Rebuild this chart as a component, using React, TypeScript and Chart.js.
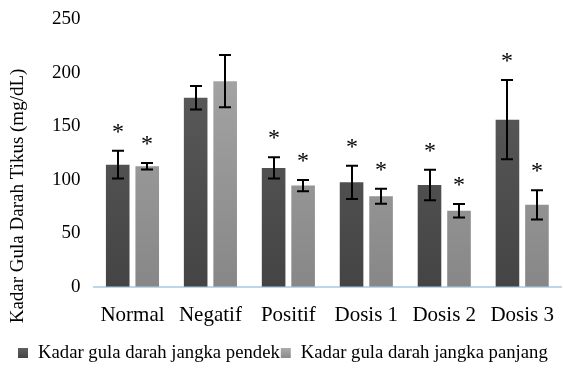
import React, { useEffect, useRef } from "react";
import { Chart, registerables } from "chart.js";

Chart.register(...registerables);

const categories = ["Normal", "Negatif", "Positif", "Dosis 1", "Dosis 2", "Dosis 3"];
const seriesNames = ["Kadar gula darah jangka pendek", "Kadar gula darah jangka panjang"];
const shortTerm = [114, 176.5, 111, 97.5, 95, 156];
const shortTermErr = [13, 11, 10, 15.6, 14.2, 37];
const longTerm = [112.5, 192, 94.5, 84.5, 71, 76.5];
const longTermErr = [3, 24.4, 5.3, 7, 6.4, 13.6];
const shortTermMark = ["*", "", "*", "*", "*", "*"];
const longTermMark = ["*", "", "*", "*", "*", "*"];
const yTicks = [0, 50, 100, 150, 200, 250];
const yTitle = "Kadar Gula Darah Tikus (mg/dL)";

const FONT = "'Liberation Serif', 'Times New Roman', serif";
const LEGEND_COLORS = [
  ["#606060", "#444444"],
  ["#ababab", "#8a8a8a"],
];

function grad(ctx: any, top: string, bottom: string, fallback: string) {
  const chart = ctx.chart;
  const area = chart.chartArea;
  if (!area) return fallback;
  const g = chart.ctx.createLinearGradient(0, area.top, 0, area.bottom);
  g.addColorStop(0, top);
  g.addColorStop(1, bottom);
  return g;
}

const errorPlugin = {
  id: "errorBars",
  afterDatasetsDraw(chart: any) {
    const ctx = chart.ctx;
    const y = chart.scales.y;
    const errs = [shortTermErr, longTermErr];
    const vals = [shortTerm, longTerm];
    const marks = [shortTermMark, longTermMark];
    ctx.save();
    ctx.strokeStyle = "#000";
    ctx.lineWidth = 2;
    ctx.fillStyle = "#000";
    ctx.font = `24px ${FONT}`;
    ctx.textAlign = "center";
    ctx.textBaseline = "alphabetic";
    for (let d = 0; d < 2; d++) {
      const meta = chart.getDatasetMeta(d);
      meta.data.forEach((bar: any, i: number) => {
        const x = Math.round(bar.x);
        const top = y.getPixelForValue(vals[d][i] + errs[d][i]);
        const bot = y.getPixelForValue(vals[d][i] - errs[d][i]);
        const cap = 6;
        ctx.beginPath();
        ctx.moveTo(x, top);
        ctx.lineTo(x, bot);
        ctx.moveTo(x - cap, top);
        ctx.lineTo(x + cap, top);
        ctx.moveTo(x - cap, bot);
        ctx.lineTo(x + cap, bot);
        ctx.stroke();
        if (marks[d][i]) {
          ctx.fillText(marks[d][i], x, top - 12);
        }
      });
    }
    ctx.restore();

    // legend (one line, boxes touching the preceding text like the reference)
    ctx.save();
    ctx.font = `18.7px ${FONT}`;
    ctx.textBaseline = "middle";
    ctx.textAlign = "left";
    const ly = 353;
    let lx = 18;
    seriesNames.forEach((name, i) => {
      const g = ctx.createLinearGradient(0, ly - 5, 0, ly + 5);
      g.addColorStop(0, LEGEND_COLORS[i][0]);
      g.addColorStop(1, LEGEND_COLORS[i][1]);
      ctx.fillStyle = g;
      ctx.fillRect(lx, ly - 5, 10, 10);
      lx += 20;
      ctx.fillStyle = "#000";
      ctx.fillText(name, lx, ly);
      lx += ctx.measureText(name).width + 1;
    });
    ctx.restore();

    // y-axis title, placed like the reference (lower than the plot centre)
    ctx.save();
    ctx.translate(18, 196);
    ctx.rotate(-Math.PI / 2);
    ctx.font = `19px ${FONT}`;
    ctx.fillStyle = "#000";
    ctx.textAlign = "center";
    ctx.textBaseline = "middle";
    ctx.fillText(yTitle, 0, 0);
    ctx.restore();
  },
};

export default function App() {
  const ref = useRef<HTMLCanvasElement>(null);
  useEffect(() => {
    if (!ref.current) return;
    const chart = new Chart(ref.current, {
      type: "bar",
      data: {
        labels: categories,
        datasets: [
          {
            label: seriesNames[0],
            data: shortTerm,
            backgroundColor: (c: any) => grad(c, "#606060", "#444444", "#525252"),
            barPercentage: 0.8,
            categoryPercentage: 0.757,
          },
          {
            label: seriesNames[1],
            data: longTerm,
            backgroundColor: (c: any) => grad(c, "#ababab", "#878787", "#999999"),
            barPercentage: 0.8,
            categoryPercentage: 0.757,
          },
        ],
      },
      options: {
        responsive: false,
        animation: false,
        devicePixelRatio: 1,
        layout: { padding: { top: 19, left: 47, right: 0, bottom: 28 } },
        plugins: {
          tooltip: { enabled: false },
          legend: { display: false },
        },
        scales: {
          x: {
            grid: { display: false, drawTicks: false },
            border: { display: true, color: "#bcd6ea", width: 2 },
            ticks: { font: { family: FONT, size: 21 }, color: "#000", padding: 16 },
          },
          y: {
            min: 0,
            max: 250,
            afterBuildTicks: (s: any) => {
              s.ticks = yTicks.map((v) => ({ value: v }));
            },
            grid: { display: false, drawTicks: true, tickLength: 8, tickColor: "transparent" },
            border: { display: false },
            ticks: { font: { family: FONT, size: 19 }, color: "#000", padding: 5 },
          },
        },
      },
      plugins: [errorPlugin],
    });
    return () => chart.destroy();
  }, []);
  return (
    <div style={{ position: "fixed", left: 0, top: 0, width: 563, height: 372, overflow: "hidden", background: "#fff" }}>
      <canvas ref={ref} width={570} height={372} style={{ display: "block" }} />
    </div>
  );
}
